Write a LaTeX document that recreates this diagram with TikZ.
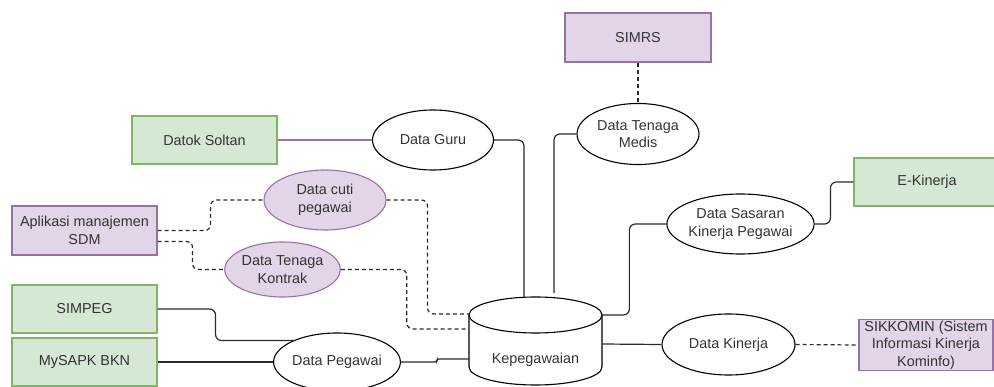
\documentclass[tikz,border=0pt]{standalone}
\usepackage{fontspec}
\setmainfont{Liberation Sans}
\usetikzlibrary{positioning,shapes.geometric,calc}
\definecolor{SysGreen}{HTML}{D5E8D4}
\definecolor{SysGreenLine}{HTML}{82B366}
\definecolor{AppPurple}{HTML}{E1D5E7}
\definecolor{AppPurpleLine}{HTML}{9673A6}
\definecolor{TextGray}{HTML}{333333}
\definecolor{WireGray}{HTML}{2B2B2B}

\tikzset{
  sysbox/.style={draw=SysGreenLine, fill=SysGreen, line width=1.1pt, minimum width=145pt, minimum height=48pt, inner sep=1pt, align=center},
  appbox/.style={draw=AppPurpleLine, fill=AppPurple, line width=1.1pt, minimum width=145pt, minimum height=49pt, inner sep=1pt, align=center},
  dataell/.style={ellipse, draw=black, fill=white, line width=1.1pt, inner sep=0pt, align=center},
  appell/.style={ellipse, draw=AppPurpleLine, fill=AppPurple, line width=1.1pt, inner sep=0pt, align=center},
  wire/.style={draw=WireGray, line width=1.2pt, rounded corners=6pt},
  dwire/.style={wire, dash pattern=on 4pt off 3pt}
}

\begin{document}
\begin{tikzpicture}[x=1pt,y=-1pt, every node/.style={font=\fontsize{14.4}{17.5}\selectfont, text=TextGray}]
  \clip (0,0) rectangle (994,387);
  \fill[white] (0,0) rectangle (994,387);

  % source systems
  \node[sysbox] (soltan) at (204.5,140) {Datok Soltan};
  \node[appbox, minimum width=146pt] (simrs) at (638,37.5) {SIMRS};
  \node[sysbox, minimum width=146pt] (ekin) at (927,182) {E-Kinerja};
  \node[appbox, minimum width=134pt, minimum height=48pt] (sikk) at (926,345) {SIKKOMIN (Sistem\\Informasi Kinerja\\Kominfo)};
  \node[appbox] (sdm) at (84.5,230.5) {Aplikasi manajemen\\SDM};
  \node[sysbox] (simpeg) at (84.5,309) {SIMPEG};
  \node[sysbox] (mysapk) at (84.5,362) {MySAPK BKN};

  % data flows
  \node[dataell, minimum width=121pt, minimum height=60pt] (guru) at (433,140) {Data Guru};
  \node[dataell, minimum width=122pt, minimum height=61pt] (medis) at (638,134) {Data Tenaga\\Medis};
  \node[dataell, minimum width=133pt, minimum height=60pt] (sasaran) at (740.5,224) {Data Sasaran\\Kinerja Pegawai};
  \node[dataell, minimum width=133pt, minimum height=61pt] (kinerja) at (728.5,344.5) {Data Kinerja};
  \node[appell, minimum width=122pt, minimum height=60pt] (cuti) at (325,200) {Data cuti\\pegawai};
  \node[appell, minimum width=109pt, minimum height=55pt] (kontrak) at (282.5,269.5) {Data Tenaga\\Kontrak};
  \node[dataell, minimum width=120pt, minimum height=58pt] (pegawai) at (337,362) {Data Pegawai};

  % database
  \draw[line width=1.1pt, fill=white] (469,315) -- (469,367)
    arc[start angle=180, end angle=360, x radius=66.5pt, y radius=18pt] -- (602,315);
  \draw[line width=1.1pt, fill=white] (535.5,315) ellipse [x radius=66.5pt, y radius=18pt];
  \node (db) at (535.5,360) {Kepegawaian};
  \coordinate (dbTopA) at (524,298);
  \coordinate (dbTopB) at (554,293);
  \coordinate (dbEastA) at (602,315);
  \coordinate (dbEastB) at (602,344);
  \coordinate (dbWestA) at (469,314);
  \coordinate (dbWestB) at (469,329);
  \coordinate (dbWestC) at (469,359);

  % connectors
  \draw[wire, draw=AppPurpleLine] (soltan.east) -- (guru.west);
  \draw[wire] (guru.east) -| (dbTopA);
  \draw[dwire] (simrs.south) -- (medis.north);
  \draw[wire] (medis.west) -| (dbTopB);
  \draw[wire] (ekin.west) -- ++(-23,0) |- (sasaran.east);
  \draw[wire] (sasaran.west) -- ++(-37,0) |- (dbEastA);
  \draw[wire] (dbEastB) -- (kinerja.west);
  \draw[dwire] (kinerja.east) -- (sikk.west);
  \draw[dwire] (sdm.east) -- ++(53,0) |- (cuti.west);
  \draw[dwire] ([yshift=-11pt]sdm.east) -- ++(35,0) |- (kontrak.west);
  \draw[dwire] (cuti.east) -- ++(41,0) |- (dbWestA);
  \draw[dwire] (kontrak.east) -- ++(66,0) |- (dbWestB);
  \draw[wire] (simpeg.east) -- ++(58,0) |- (pegawai.154);
  \draw[wire] (mysapk.east) -- (pegawai.west);
  \draw[wire, rounded corners=2pt] (pegawai.east) -- ++(36,0) |- (dbWestC);
\end{tikzpicture}
\end{document}
